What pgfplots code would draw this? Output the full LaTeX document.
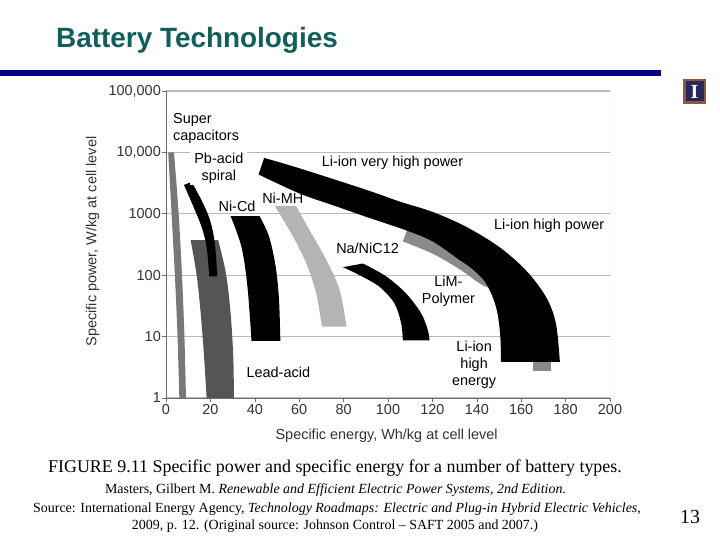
\documentclass[border=0pt]{standalone}
\usepackage{fontspec}
\setmainfont{Liberation Serif}
\newfontfamily\arial{Liberation Sans}
\usepackage{pgfplots}
\pgfplotsset{compat=1.18}
\definecolor{titleteal}{RGB}{17,94,94}
\definecolor{navybar}{RGB}{0,0,128}
\definecolor{logobrown}{RGB}{140,90,60}
\definecolor{logonavy}{RGB}{40,40,95}
\definecolor{scgray}{RGB}{120,120,120}
\definecolor{leadgray}{RGB}{85,85,85}
\definecolor{nimhgray}{RGB}{180,180,180}
\definecolor{limgray}{RGB}{138,138,138}
\definecolor{gridgray}{RGB}{185,185,185}
\definecolor{axgray}{RGB}{110,110,110}
\newcommand{\lbl}{\arial\fontsize{14.5}{17}\selectfont}
\tikzset{sm/.style={smooth, tension=0.55}}
\begin{document}
\begin{tikzpicture}[x=1bp,y=1bp]
\fill[white] (0,0) rectangle (720,540);
\path[use as bounding box] (0,0) rectangle (720,540);
% title and rule
\node[anchor=base west, font=\arial\bfseries\fontsize{28}{30}\selectfont, text=titleteal, inner sep=0] at (56,492) {Battery Technologies};
\fill[navybar] (0,464) rectangle (661,470);
% logo
\fill[logobrown] (683,436) rectangle (706,461);
\fill[logonavy] (685.5,438.5) rectangle (703.5,458.5);
\node[text=white, font=\bfseries\fontsize{20}{20}\selectfont, inner sep=0] at (694.5,448.5) {I};
\begin{axis}[
  at={(166bp,142bp)}, anchor=south west,
  width=444bp, height=307bp, scale only axis,
  xmin=0, xmax=200, ymin=1, ymax=100000, ymode=log,
  axis x line*=bottom, axis y line*=left,
  axis line style={-, draw=axgray, line width=0.8bp},
  xtick={0,20,40,60,80,100,120,140,160,180,200},
  xticklabels={0,20,40,60,80,100,120,140,160,180,200},
  ytick={1,10,100,1000,10000,100000},
  yticklabels={1,10,100,1000,{10,000},{100,000}},
  yminorticks=false,
  tick align=outside, major tick length=4bp,
  tick style={draw=axgray, line width=0.6bp},
  ticklabel style={font=\lbl, text=black!80},
  yticklabel style={inner sep=1bp},
  xticklabel style={inner sep=2bp},
  ymajorgrids, major grid style={draw=gridgray, line width=1.2bp},
  xlabel={Specific energy, Wh/kg at cell level},
  ylabel={Specific power, W/kg at cell level},
  every axis x label/.style={at={(axis description cs:0.497,-0.124)}, anchor=center, font=\lbl, text=black!80},
  every axis y label/.style={at={(axis description cs:-0.165,0.51)}, rotate=90, anchor=center, font=\lbl, text=black!80},
  clip=true,
]
\addplot[draw=gridgray, line width=1bp, forget plot] coordinates {(200,1) (200,100000)};
% Super capacitors
\fill[scgray] plot[sm] coordinates {(axis cs:1.0,10000) (axis cs:2.5,1000) (axis cs:4.0,100) (axis cs:5.2,10) (axis cs:6.0,1)}
 -- plot[sm] coordinates {(axis cs:9.0,1) (axis cs:8.3,10) (axis cs:7.2,100) (axis cs:5.7,1000) (axis cs:3.6,10000)} -- cycle;
% Lead-acid
\fill[leadgray] plot[sm] coordinates {(axis cs:11.1,372) (axis cs:14.1,83.2) (axis cs:16.5,10) (axis cs:18.3,1)}
 -- plot[sm] coordinates {(axis cs:30.6,1) (axis cs:30.3,4.68) (axis cs:29.1,24.0) (axis cs:27.0,107) (axis cs:23.5,372)} -- cycle;
% Pb-acid spiral
\fill[black] plot[sm] coordinates {(axis cs:8.1,2951) (axis cs:12.3,1318) (axis cs:16.0,617) (axis cs:18.3,288) (axis cs:19.5,95.5)}
 -- plot[sm] coordinates {(axis cs:23.1,95.5) (axis cs:22.0,331) (axis cs:19.8,794) (axis cs:16.0,1660) (axis cs:11.5,3311)} -- cycle;
% Ni-Cd
\fill[black] plot[sm] coordinates {(axis cs:29.1,912) (axis cs:34.0,288) (axis cs:36.7,64.6) (axis cs:38.5,8.51)}
 -- plot[sm] coordinates {(axis cs:51.5,8.51) (axis cs:50.9,39.8) (axis cs:49.4,138) (axis cs:46.4,427) (axis cs:42.2,912)} -- cycle;
% Ni-MH
\fill[nimhgray] plot[sm] coordinates {(axis cs:49.0,1349) (axis cs:57.2,427) (axis cs:63.2,155) (axis cs:67.7,50.1) (axis cs:70.2,14.5)}
 -- plot[sm] coordinates {(axis cs:81.3,14.5) (axis cs:78.2,57.5) (axis cs:72.2,178) (axis cs:65.5,479) (axis cs:58.5,1349)} -- cycle;
% Na/NiCl2
\fill[black] plot[sm] coordinates {(axis cs:88.7,155) (axis cs:99.2,95.5) (axis cs:108.2,50.1) (axis cs:114.9,24.0) (axis cs:117.9,12.9) (axis cs:118.7,8.71)}
 -- plot[sm] coordinates {(axis cs:106.7,8.71) (axis cs:105.9,16.6) (axis cs:102.9,34.7) (axis cs:96.2,64.6) (axis cs:87.2,100) (axis cs:79.7,135)} -- cycle;
% LiM-Polymer
\fill[limgray] plot[sm] coordinates {(axis cs:106.7,355) (axis cs:120.1,224) (axis cs:132.1,126) (axis cs:141.1,74.1) (axis cs:145,63.1)}
 -- plot[sm] coordinates {(axis cs:146,126) (axis cs:130,316) (axis cs:108.5,537)} -- cycle;
% Li-ion high energy (grey part)
\addplot[draw=none, fill=limgray, forget plot] coordinates {(165.1,2.75) (173.4,2.75) (173.4,3.89) (165.1,3.89)};
% Li-ion very high power / high power / high energy
\fill[black] plot[sm] coordinates {(axis cs:44.2,8128) (axis cs:60.2,5495) (axis cs:90.2,2455) (axis cs:105.2,1585) (axis cs:120.1,1072) (axis cs:135.1,617)
 (axis cs:150.1,288) (axis cs:162.1,120) (axis cs:171.1,44.7) (axis cs:175.6,16.6) (axis cs:177.4,3.89)}
 -- plot[sm] coordinates {(axis cs:150.9,3.89) (axis cs:150.5,11.2) (axis cs:148.6,30.9) (axis cs:144.1,74.1) (axis cs:138,126) (axis cs:132.1,178)
 (axis cs:120.1,355) (axis cs:108.2,537) (axis cs:90.2,891) (axis cs:75.2,1380) (axis cs:60.2,2138) (axis cs:41.7,4365)} -- cycle;
% labels
\node[font=\lbl, align=left, anchor=west, inner sep=0] at (axis description cs:0.0157,0.878) {Super\\capacitors};
\node[font=\lbl, align=center, fill=white, inner ysep=1.5bp, inner xsep=4bp] at (axis description cs:0.119,0.749) {Pb-acid\\spiral};
\node[font=\lbl, inner sep=0] at (axis description cs:0.160,0.625) {Ni-Cd};
\node[font=\lbl, inner sep=0] at (axis description cs:0.263,0.651) {Ni-MH};
\node[font=\lbl, fill=white, inner ysep=1bp, inner xsep=7bp] at (axis description cs:0.510,0.765) {Li-ion very high power};
\node[font=\lbl, inner sep=0] at (axis description cs:0.863,0.560) {Li-ion high power};
\node[font=\lbl, inner sep=0] at (axis description cs:0.454,0.489) {Na/NiC12};
\node[font=\lbl, align=center, inner sep=0] at (axis description cs:0.636,0.347) {LiM-\\Polymer};
\node[font=\lbl, align=center, inner sep=0] at (axis description cs:0.694,0.109) {Li-ion\\high\\energy};
\node[font=\lbl, inner sep=0] at (axis description cs:0.253,0.0847) {Lead-acid};
\end{axis}
% caption
\node[anchor=base, font=\fontsize{18}{20}\selectfont, inner sep=0] at (335,67) {FIGURE 9.11 Specific power and specific energy for a number of battery types.};
\node[anchor=base, font=\fontsize{14}{16}\selectfont, inner sep=0] at (335.5,46) {Masters, Gilbert M. \textit{Renewable and Efficient Electric Power Systems, 2nd Edition.}};
\node[anchor=base, font=\fontsize{14}{16}\selectfont, inner sep=0] at (337,27) {Source: International Energy Agency, \textit{Technology Roadmaps: Electric and Plug-in Hybrid Electric Vehicles}, };
\node[anchor=base, font=\fontsize{14}{16}\selectfont, inner sep=0] at (335,10) {2009, p. 12. (Original source: Johnson Control -- SAFT 2005 and 2007.)};
\node[anchor=base, font=\fontsize{20}{22}\selectfont, inner sep=0] at (690,16) {13};
\end{tikzpicture}
\end{document}
